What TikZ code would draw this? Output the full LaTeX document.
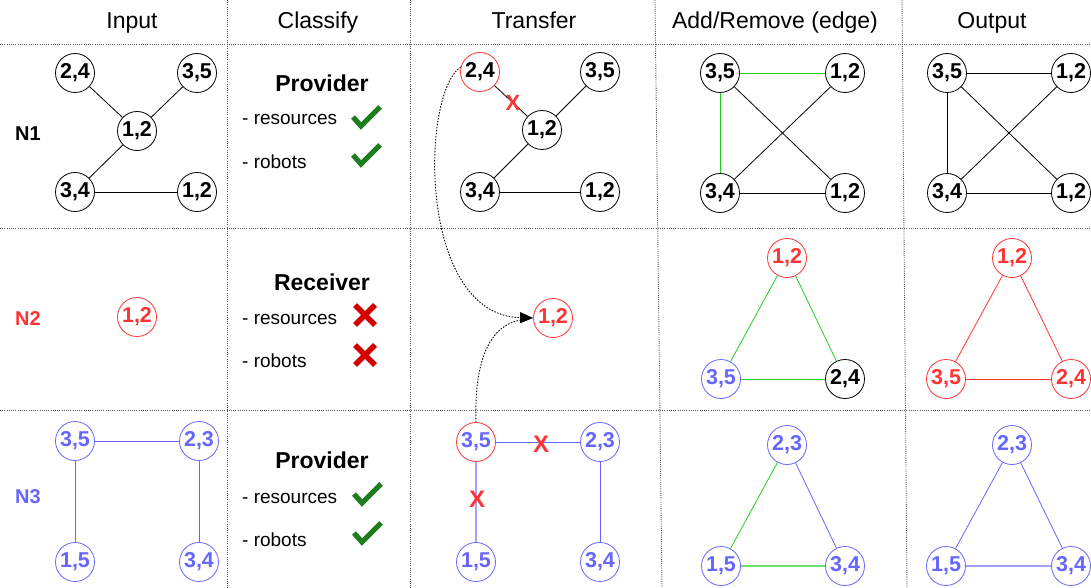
\documentclass[tikz,border=0pt]{standalone}
\usepackage{fontspec}
\setmainfont{Liberation Sans}
\usetikzlibrary{arrows.meta}

\definecolor{nred}{HTML}{FF3333}
\definecolor{nblue}{HTML}{6666FF}
\definecolor{lblue}{HTML}{A3A3FF}
\definecolor{egreen}{HTML}{22CC22}
\definecolor{lgreen}{HTML}{70DD70}
\definecolor{okgreen}{HTML}{1E7D1E}
\definecolor{nored}{HTML}{D40000}
\definecolor{gridgray}{HTML}{555555}

\tikzset{
  vtx/.style={circle, draw=black, text=black, line width=0.8pt, minimum size=39pt,
    inner sep=0pt, font=\fontsize{21.5}{21.5}\selectfont\bfseries},
  rvtx/.style={vtx, draw=nred, text=nred},
  bvtx/.style={vtx, draw=nblue, text=nblue},
  link/.style={line width=0.8pt},
  gridline/.style={gridgray, line width=0.9pt, dash pattern=on 1pt off 1.2pt},
  headtxt/.style={anchor=base, font=\fontsize{23}{23}\selectfont},
  roletxt/.style={anchor=base, font=\fontsize{23}{23}\selectfont\bfseries},
  itemtxt/.style={anchor=base west, inner sep=0pt, font=\fontsize{19}{19}\selectfont},
  rowlab/.style={font=\fontsize{20}{20}\selectfont\bfseries},
  xcut/.style={text=nred, inner sep=0pt, font=\fontsize{22}{22}\selectfont\bfseries},
  flow/.style={line width=0.9pt, dash pattern=on 1.5pt off 1.5pt},
  okmark/.pic={\draw[okgreen, line width=5.2pt] (-13,0) -- (-5,9) -- (14,-10);},
  nomark/.pic={\draw[nored, line width=5.5pt] (-10,-10) -- (10,10) (-10,10) -- (10,-10);},
}

\begin{document}
\begin{tikzpicture}[x=1pt, y=-1pt]
\useasboundingbox (0,0) rectangle (1091,588);

% table grid
\draw[gridline] (0,44) -- (1091,44);
\draw[gridline] (0,228) -- (1091,228);
\draw[gridline] (0,410) -- (1091,410);
\draw[gridline] (227,0) -- (227,588);
\draw[gridline] (410,0) -- (410,588);
\draw[gridline] (655,0) -- (662,588);
\draw[gridline] (902,0) -- (907,588);

% column headers
\node[headtxt] (hin)  at (132,29) {Input};
\node[headtxt] (hcl)  at (318,29) {Classify};
\node[headtxt] (htr)  at (534,29) {Transfer};
\node[headtxt] (hadd) at (775,29) {Add/Remove (edge)};
\node[headtxt] (hout) at (992,29) {Output};

% row labels
\node[rowlab] (l1) at (28,134) {N1};
\node[rowlab, text=nred] (l2) at (28,319) {N2};
\node[rowlab, text=nblue] (l3) at (28,497) {N3};

% ---------------- N1 ----------------
\node[vtx] (a1a) at (75,73) {2,4};
\node[vtx] (a1b) at (197,73) {3,5};
\node[vtx] (a1c) at (137,131) {1,2};
\node[vtx] (a1d) at (75,192) {3,4};
\node[vtx] (a1e) at (197,192) {1,2};
\draw[link] (a1a) -- (a1c);
\draw[link] (a1b) -- (a1c);
\draw[link] (a1c) -- (a1d);
\draw[link] (a1d) -- (a1e);

\node[roletxt] (c1) at (322,92) {Provider};
\node[itemtxt] (c1r) at (242,125) {- resources};
\node[itemtxt] (c1b) at (242,168) {- robots};
\pic at (366,117) {okmark};
\pic at (366,155) {okmark};

\node[vtx, draw=nred] (t1a) at (480,72) {2,4};
\node[vtx] (t1b) at (600,72) {3,5};
\node[vtx] (t1c) at (542,130) {1,2};
\node[vtx] (t1d) at (480,192) {3,4};
\node[vtx] (t1e) at (600,192) {1,2};
\draw[link] (t1a) -- (t1c);
\draw[link] (t1b) -- (t1c);
\draw[link] (t1c) -- (t1d);
\draw[link] (t1d) -- (t1e);
\node[xcut] (x1) at (513,103) {X};

\node[vtx] (r1a) at (720,73) {3,5};
\node[vtx] (r1b) at (845,73) {1,2};
\node[vtx] (r1c) at (720,193) {3,4};
\node[vtx] (r1d) at (845,193) {1,2};
\draw[link, egreen] (r1a) -- (r1b);
\draw[link, egreen] (r1a) -- (r1c);
\draw[link] (r1a) -- (r1d);
\draw[link] (r1c) -- (r1b);
\draw[link] (r1c) -- (r1d);

\node[vtx] (o1a) at (947,73) {3,5};
\node[vtx] (o1b) at (1071,73) {1,2};
\node[vtx] (o1c) at (947,193) {3,4};
\node[vtx] (o1d) at (1071,193) {1,2};
\draw[link] (o1a) -- (o1b);
\draw[link] (o1a) -- (o1c);
\draw[link] (o1a) -- (o1d);
\draw[link] (o1c) -- (o1b);
\draw[link] (o1c) -- (o1d);

% ---------------- N2 ----------------
\node[rvtx] (a2a) at (137,317) {1,2};

\node[roletxt] (c2) at (322,290) {Receiver};
\node[itemtxt] (c2r) at (242,324) {- resources};
\node[itemtxt] (c2b) at (242,367) {- robots};
\pic at (365,315) {nomark};
\pic at (365,355) {nomark};

\node[rvtx] (t2a) at (553,318) {1,2};

\node[rvtx] (r2a) at (787,258) {1,2};
\node[bvtx] (r2b) at (721,379) {3,5};
\node[vtx]  (r2c) at (845,379) {2,4};
\draw[link, egreen] (r2a) -- (r2b);
\draw[link, egreen] (r2a) -- (r2c);
\draw[link, egreen] (r2b) -- (r2c);

\node[rvtx] (o2a) at (1012,258) {1,2};
\node[rvtx] (o2b) at (946,379) {3,5};
\node[rvtx] (o2c) at (1071,379) {2,4};
\draw[link, nred] (o2a) -- (o2b);
\draw[link, nred] (o2a) -- (o2c);
\draw[link, nred] (o2b) -- (o2c);

% ---------------- N3 ----------------
\node[bvtx] (a3a) at (75,441) {3,5};
\node[bvtx] (a3b) at (199,441) {2,3};
\node[bvtx] (a3c) at (75,562) {1,5};
\node[bvtx] (a3d) at (199,562) {3,4};
\draw[link, nblue] (a3a) -- (a3b);
\draw[link, nblue] (a3a) -- (a3c);
\draw[link, nblue] (a3b) -- (a3d);

\node[roletxt] (c3) at (322,468) {Provider};
\node[itemtxt] (c3r) at (242,503) {- resources};
\node[itemtxt] (c3b) at (242,546) {- robots};
\pic at (367,494) {okmark};
\pic at (367,533) {okmark};

\node[bvtx, draw=nred] (t3a) at (476,442) {3,5};
\node[bvtx] (t3b) at (600,442) {2,3};
\node[bvtx] (t3c) at (476,562) {1,5};
\node[bvtx] (t3d) at (600,562) {3,4};
\draw[link, nblue] (t3a) -- (t3b);
\draw[lblue, line width=1.6pt] (t3a) -- (t3c);
\draw[link, nblue] (t3b) -- (t3d);
\node[xcut, font=\fontsize{24}{24}\selectfont\bfseries] (x2) at (541,444) {X};
\node[xcut, font=\fontsize{24}{24}\selectfont\bfseries] (x3) at (477,499) {X};

\node[bvtx] (r3a) at (787,445) {2,3};
\node[bvtx] (r3b) at (721,566) {1,5};
\node[bvtx] (r3c) at (845,566) {3,4};
\draw[link, egreen] (r3a) -- (r3b);
\draw[link, nblue] (r3a) -- (r3c);
\draw[lgreen, line width=1.8pt] (r3b) -- (r3c);

\node[bvtx] (o3a) at (1012,445) {2,3};
\node[bvtx] (o3b) at (946,566) {1,5};
\node[bvtx] (o3c) at (1071,566) {3,4};
\draw[link, nblue] (o3a) -- (o3b);
\draw[link, nblue] (o3a) -- (o3c);
\draw[lblue, line width=1.8pt] (o3b) -- (o3c);

% transfers into the receiver
\coordinate (merge) at (521,320);
\draw[flow, -{Triangle[length=13pt, width=11pt]}] (t1a.165)
  .. controls (420,95) and (418,315) .. (t2a.west);
\draw[flow] (t3a.north) .. controls (474,360) and (490,325) .. (merge);

\end{tikzpicture}
\end{document}
